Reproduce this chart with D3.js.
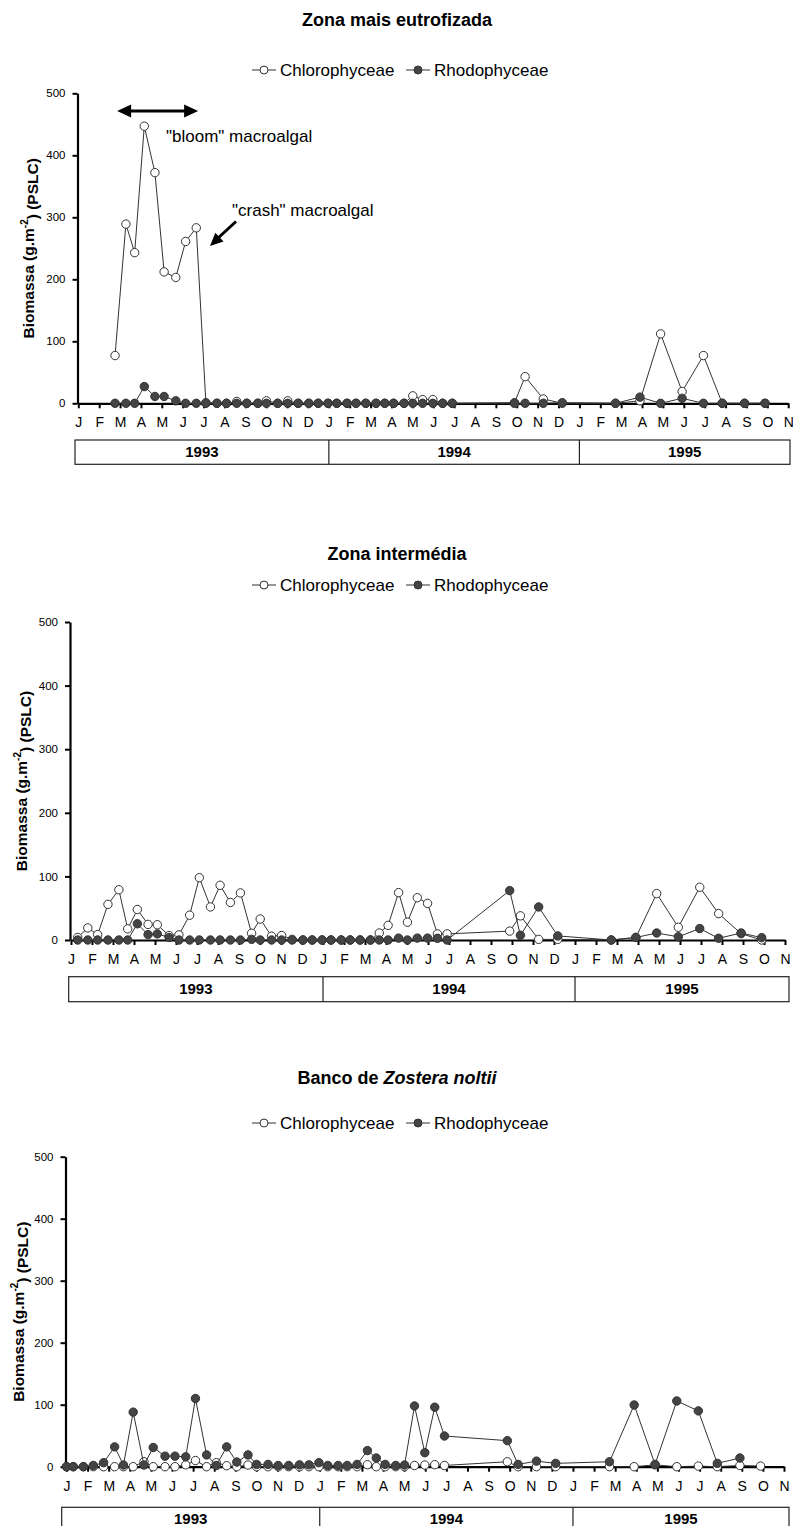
<!DOCTYPE html>
<html>
<head>
<meta charset="utf-8">
<script src="https://cdn.jsdelivr.net/npm/d3@7"></script>
<style>
  body { margin: 0; background: #fff; }
  text { font-family: "Liberation Sans", Arial, Helvetica, sans-serif; fill: #000; }
</style>
</head>
<body>
<svg id="chart" width="793" height="1526"></svg>
<script>
// ---- data -------------------------------------------------------------
const monthLetters = ["J","F","M","A","M","J","J","A","S","O","N","D"];
const years = ["1993", "1994", "1995"];
const yTicks = [0, 100, 200, 300, 400, 500];
const seriesNames = ["Chlorophyceae", "Rhodophyceae"];

// sampling dates, in months since 1 January 1993
const sampleMonth = [0.00, 0.32, 0.80, 1.27, 1.76, 2.28, 2.70, 3.16, 3.67, 4.11,
  4.67, 5.14, 5.65, 6.11, 6.64, 7.10, 7.59, 8.07, 8.60, 9.01,
  9.55, 10.03, 10.53, 11.04, 11.49, 11.96, 12.38, 12.87, 13.30, 13.77,
  14.26, 14.68, 15.10, 15.60, 16.02, 16.49, 16.98, 17.45, 17.91, 20.89,
  21.40, 22.27, 23.18, 25.73, 26.90, 27.89, 28.92, 29.94, 30.84, 31.91, 32.89];

// biomass, g.m-2 (PSLC); null = not sampled
const eutroChloro = [null, null, null, null, 77, 289, 243, 447, 372, 212,
  203, 261, 283, 1, 0, 0, 3, 0, 0, 4,
  0, 4, 0, 0, 0, 0, 0, 0, 0, 0,
  0, 0, 0, 0, 12, 6, 6, 0, 0, 1,
  43, 7, 0, 0, 4, 112, 19, 77, 0, 0, 0];
const eutroRhodo = [null, null, null, null, 0, 0, 0, 27, 11, 11,
  4, 0, 0, 0, 0, 0, 0, 0, 0, 0,
  0, 0, 0, 0, 0, 0, 0, 0, 0, 0,
  0, 0, 0, 0, 0, 0, 0, 0, 0, 0,
  0, 0, 1, 0, 10, 0, 8, 0, 0, 0, 0];

const interChloro = [null, 4, 19, 8.5, 56, 79, 17.5, 48, 24.5, 24,
  7, 8, 39, 98, 52, 86, 59, 74, 10.6, 33,
  6, 7, 1, 0, 0, 0, 0, 0, 0, 0,
  0, 11, 23, 74.5, 28, 66.5, 57.5, 9.6, 9.6, 14,
  38, 1, 1, 0, 4, 73, 20, 83, 41.5, 10, 0];
const interRhodo = [null, 0, 0, 0, 0, 0, 0, 25.5, 8.5, 9.6,
  4, 0, 0, 0, 0, 0, 0, 0, 1, 0,
  0, 0, 0, 0, 0, 0, 0, 0, 0, 0,
  0, 0, 0, 3, 0, 3, 3, 2.7, 0, 77.7,
  7.4, 52, 6.4, 0, 4, 11, 5, 18, 2.7, 11, 3.7];

const zosteraChloro = [0, 0, 0, 0, 0, 0, 0, 0, 8, 0,
  0, 0, 3, 10, 0, 6.5, 1.6, 0, 2.7, 0,
  0, 0, 0, 0, 0, 0, 0, 0, 0, 0,
  3.2, 0, 0, 0, 0, 2, 2.7, 3.2, 2, 8,
  0, 0, 0, 0, 0, 3, 0, 1, 0, 2, 1];
const zosteraRhodo = [0, 0, 0, 2, 6.5, 32, 2.7, 88, 2.7, 31,
  17, 17, 16, 110, 19, 2, 32, 7.5, 19, 3.7,
  3.7, 2, 2, 3, 3, 6.5, 2, 2, 2, 3.7,
  26, 14, 3.7, 2, 2.7, 98, 22.6, 96, 49.5, 42,
  3.7, 9, 5.4, 8, 99.5, 3.7, 106, 90, 5.4, 14, null];

// ---- layout -----------------------------------------------------------
const panels = [
  { title: [["Zona mais eutrofizada", "normal"]], chloro: eutroChloro, rhodo: eutroRhodo,
    titleY: 25.5, legendY: 76, y0: 403.3, y1: 93.3, axisX: 77.5, x0: 78.3, x1: 788.2,
    boxL: 75, boxR: 790, boxT: 440, boxB: 464.3, labelX: 29, notes: true },
  { title: [["Zona intermédia", "normal"]], chloro: interChloro, rhodo: interRhodo,
    titleY: 559.5, legendY: 591, y0: 940, y1: 622, axisX: 70, x0: 71, x1: 785,
    boxL: 68.7, boxR: 789, boxT: 976.7, boxB: 1001.7, labelX: 22, notes: false },
  { title: [["Banco de ", "normal"], ["Zostera noltii", "italic"]], chloro: zosteraChloro, rhodo: zosteraRhodo,
    titleY: 1083.5, legendY: 1129, y0: 1466.7, y1: 1156.7, axisX: 65.5, x0: 66.5, x1: 784,
    boxL: 61.7, boxR: 789, boxT: 1507.3, boxB: 1540, labelX: 19, notes: false }
];

const INK = "#333";
const DOT = "#444";
const svg = d3.select("#chart");

function drawPanel(p) {
  const g = svg.append("g");
  const x = d3.scaleLinear().domain([0, 34]).range([p.x0, p.x1]);
  const y = d3.scaleLinear().domain([0, 500]).range([p.y0, p.y1]);

  // title
  const t = g.append("text").attr("x", 397).attr("y", p.titleY)
    .attr("text-anchor", "middle").attr("font-size", 18).attr("font-weight", "bold");
  p.title.forEach(([s, st]) => t.append("tspan").attr("font-style", st).text(s));

  // legend
  const legX = [252, 406];
  seriesNames.forEach((name, i) => {
    const lx = legX[i], ly = p.legendY - 6;
    g.append("line").attr("x1", lx).attr("x2", lx + 24).attr("y1", ly).attr("y2", ly)
      .attr("stroke", INK).attr("stroke-width", 1);
    g.append("circle").attr("cx", lx + 12).attr("cy", ly).attr("r", 4)
      .attr("fill", i === 0 ? "#fff" : DOT).attr("stroke", INK).attr("stroke-width", 1);
    g.append("text").attr("x", lx + 28).attr("y", p.legendY)
      .attr("font-size", 17).text(name);
  });

  // y axis
  const ya = g.append("g").attr("transform", `translate(${p.axisX},0)`)
    .call(d3.axisLeft(y).tickValues(yTicks).tickSize(5).tickSizeOuter(0).tickPadding(7));
  ya.select(".domain").attr("stroke", "#000").attr("stroke-width", 2.2);
  ya.selectAll(".tick line").attr("stroke", "#000").attr("stroke-width", 2);
  ya.selectAll(".tick text").attr("font-size", 11.5).attr("font-family", null);

  // y axis title
  const yl = g.append("text")
    .attr("transform", `translate(${p.labelX},${(p.y0 + p.y1) / 2}) rotate(-90)`)
    .attr("text-anchor", "middle").attr("dy", "0.35em")
    .attr("font-size", 15.5).attr("font-weight", "bold");
  yl.append("tspan").text("Biomassa (g.m");
  yl.append("tspan").attr("font-size", 10).attr("dy", "-0.6em").text("-2");
  yl.append("tspan").attr("dy", "0.6em").text(") (PSLC)");

  // x axis (months)
  const xa = g.append("g").attr("transform", `translate(0,${p.y0})`)
    .call(d3.axisBottom(x).tickValues(d3.range(35)).tickFormat(i => monthLetters[i % 12])
      .tickSize(5).tickSizeOuter(0).tickPadding(9));
  xa.select(".domain").attr("stroke", "#000").attr("stroke-width", 2.2);
  xa.selectAll(".tick line").attr("stroke", "#000").attr("stroke-width", 2);
  xa.selectAll(".tick text").attr("font-size", 14).attr("font-family", null);

  // year band
  g.append("rect").attr("x", p.boxL).attr("y", p.boxT)
    .attr("width", p.boxR - p.boxL).attr("height", p.boxB - p.boxT)
    .attr("fill", "none").attr("stroke", "#222").attr("stroke-width", 1.2);
  const edges = [p.boxL, x(12), x(24), p.boxR];
  [x(12), x(24)].forEach(d => g.append("line").attr("x1", d).attr("x2", d)
    .attr("y1", p.boxT).attr("y2", p.boxB).attr("stroke", "#222").attr("stroke-width", 1.2));
  years.forEach((yr, i) => g.append("text")
    .attr("x", (edges[i] + edges[i + 1]) / 2)
    .attr("y", p.boxT + 17).attr("text-anchor", "middle")
    .attr("font-size", 15).attr("font-weight", "bold").text(yr));

  // series: green algae first, red algae on top
  [[p.chloro, "#fff"], [p.rhodo, DOT]].forEach(([vals, fill]) => {
    const pts = sampleMonth.map((m, i) => ({ m, v: vals[i] })).filter(d => d.v !== null);
    g.append("path").datum(pts)
      .attr("d", d3.line().x(d => x(d.m)).y(d => y(d.v)))
      .attr("fill", "none").attr("stroke", INK).attr("stroke-width", 1);
    g.selectAll(null).data(pts).join("circle")
      .attr("cx", d => x(d.m)).attr("cy", d => y(d.v)).attr("r", 4.2)
      .attr("fill", fill).attr("stroke", INK).attr("stroke-width", 1);
  });

  if (p.notes) {
    // bloom period and crash annotations
    const head = (x1, y1, x2, y2, len, half) => {
      const a = Math.atan2(y2 - y1, x2 - x1);
      const bx = x2 - len * Math.cos(a), by = y2 - len * Math.sin(a);
      const nx = -Math.sin(a) * half, ny = Math.cos(a) * half;
      return `M${x2},${y2}L${bx + nx},${by + ny}L${bx - nx},${by - ny}Z`;
    };
    const ay = 111, ax1 = x(1.86), ax2 = x(5.74);
    g.append("line").attr("x1", ax1 + 8).attr("x2", ax2 - 8).attr("y1", ay).attr("y2", ay)
      .attr("stroke", "#000").attr("stroke-width", 3.2);
    g.append("path").attr("d", head(ax2, ay, ax1, ay, 14, 6.5)).attr("fill", "#000");
    g.append("path").attr("d", head(ax1, ay, ax2, ay, 14, 6.5)).attr("fill", "#000");
    g.append("text").attr("x", 166).attr("y", 142).attr("font-size", 17).text('"bloom" macroalgal');

    const cx1 = 236, cy1 = 221.5, cx2 = 210, cy2 = 246;
    g.append("line").attr("x1", cx1).attr("y1", cy1).attr("x2", cx2 + 7).attr("y2", cy2 - 7)
      .attr("stroke", "#000").attr("stroke-width", 3);
    g.append("path").attr("d", head(cx1, cy1, cx2, cy2, 13, 6)).attr("fill", "#000");
    g.append("text").attr("x", 232).attr("y", 216).attr("font-size", 17).text('"crash" macroalgal');
  }
}

panels.forEach(drawPanel);
</script>
</body>
</html>
